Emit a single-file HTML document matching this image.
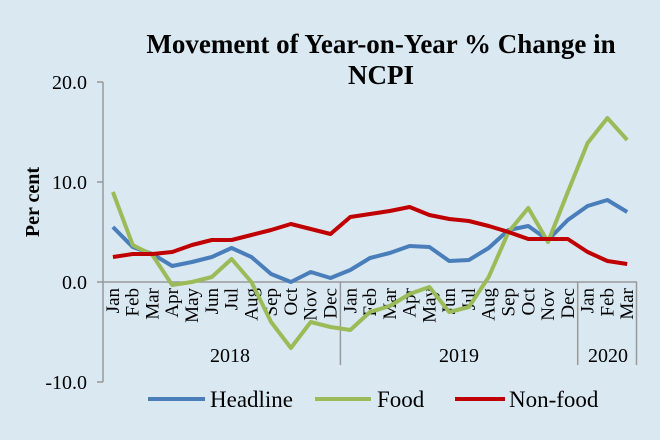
<!DOCTYPE html>
<html><head><style>
body{margin:0;background:#d9e8f1;}
svg{display:block;font-family:"Liberation Serif",serif;}
</style></head><body>
<svg width="660" height="440" viewBox="0 0 660 440" xmlns="http://www.w3.org/2000/svg">
<rect width="660" height="440" fill="#d9e8f1"/>
<text x="381" y="53" text-anchor="middle" font-size="27" font-weight="bold" fill="#000">Movement of Year-on-Year % Change in</text>
<text x="381" y="84" text-anchor="middle" font-size="27" font-weight="bold" fill="#000">NCPI</text>
<g stroke="#999" stroke-width="1.5" fill="none">
<line x1="103" y1="82" x2="103" y2="382"/>
<line x1="97" y1="82" x2="103" y2="82"/>
<line x1="97" y1="182" x2="103" y2="182"/>
<line x1="97" y1="282" x2="103" y2="282"/>
<line x1="97" y1="382" x2="103" y2="382"/>
<line x1="103" y1="282" x2="637" y2="282"/>
<line x1="340.4" y1="282" x2="340.4" y2="365"/>
<line x1="577.7" y1="282" x2="577.7" y2="365"/>
<line x1="636.5" y1="282" x2="636.5" y2="365"/>
</g>
<g font-size="20" text-anchor="end" fill="#000">
<text x="87" y="89">20.0</text>
<text x="87" y="189">10.0</text>
<text x="87" y="289">0.0</text>
<text x="87" y="389">-10.0</text>
</g>
<text transform="translate(39,202) rotate(-90)" text-anchor="middle" font-size="20" font-weight="bold">Per cent</text>
<g font-size="19" fill="#000" id="months"></g>
<g font-size="20" text-anchor="middle">
<text x="230" y="362">2018</text>
<text x="459" y="362">2019</text>
<text x="608" y="362">2020</text>
</g>
<polyline id="h" fill="none" stroke="#4a7ebb" stroke-width="4" stroke-linejoin="round"/>
<polyline id="f" fill="none" stroke="#9bbb59" stroke-width="4" stroke-linejoin="round"/>
<polyline id="n" fill="none" stroke="#c00000" stroke-width="4" stroke-linejoin="round"/>
<line x1="148" y1="399" x2="205" y2="399" stroke="#4a7ebb" stroke-width="4"/>
<text x="210" y="407" font-size="23">Headline</text>
<line x1="315" y1="399" x2="371" y2="399" stroke="#9bbb59" stroke-width="4"/>
<text x="377" y="407" font-size="23">Food</text>
<line x1="455" y1="399" x2="505" y2="399" stroke="#c00000" stroke-width="4"/>
<text x="509" y="407" font-size="23">Non-food</text>
</svg>
<script>
var H=[5.5,3.5,2.8,1.6,2.0,2.5,3.4,2.5,0.8,0.0,1.0,0.4,1.2,2.4,2.9,3.6,3.5,2.1,2.2,3.4,5.2,5.6,4.2,6.2,7.6,8.2,7.0];
var F=[9.0,3.7,2.7,-0.3,0.0,0.5,2.3,0.0,-4.0,-6.6,-4.0,-4.5,-4.8,-3.0,-2.4,-1.2,-0.5,-3.0,-2.5,0.5,5.0,7.4,4.0,9.0,13.9,16.4,14.2];
var N=[2.5,2.8,2.8,3.0,3.7,4.2,4.2,4.7,5.2,5.8,5.3,4.8,6.5,6.8,7.1,7.5,6.7,6.3,6.1,5.6,5.0,4.3,4.3,4.3,3.0,2.1,1.8];
function X(i){return 103+19.78*(i+0.5);}
function pts(a){return a.map(function(v,i){return X(i).toFixed(1)+","+(282-v*10).toFixed(1);}).join(" ");}
document.getElementById("h").setAttribute("points",pts(H));
document.getElementById("f").setAttribute("points",pts(F));
document.getElementById("n").setAttribute("points",pts(N));
var m=["Jan","Feb","Mar","Apr","May","Jun","Jul","Aug","Sep","Oct","Nov","Dec"],s="";
for(var i=0;i<27;i++){var x=X(i)+6;s+='<text transform="translate('+x.toFixed(1)+',288) rotate(-90)" text-anchor="end">'+m[i%12]+'</text>';}
document.getElementById("months").innerHTML=s;
</script>
</body></html>
